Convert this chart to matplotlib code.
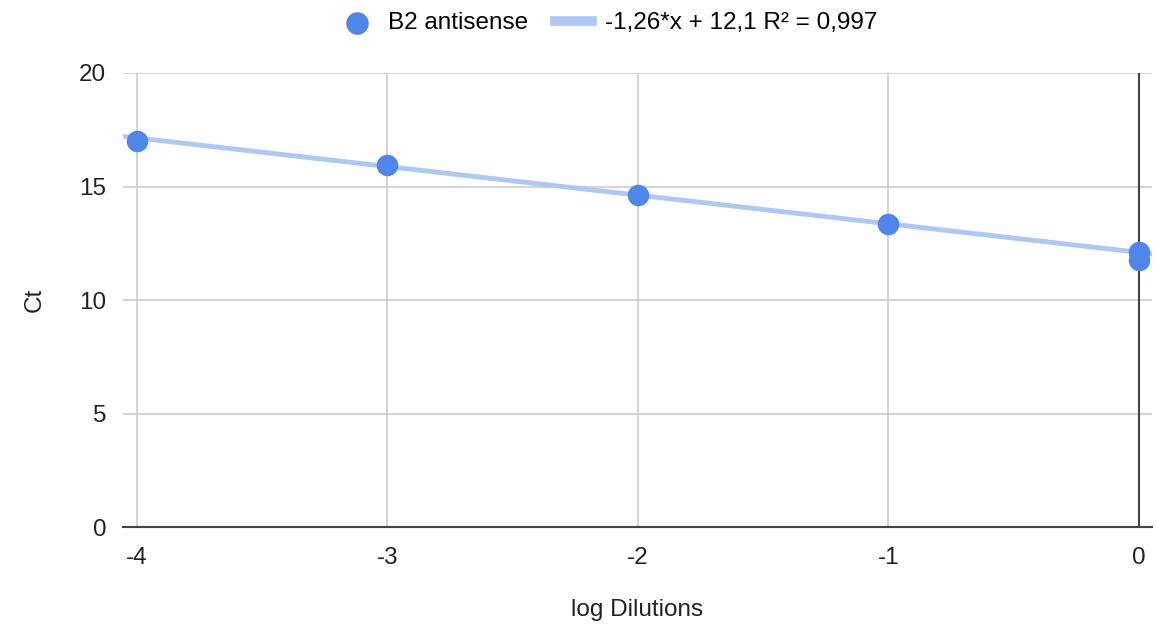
import numpy as np
import matplotlib.pyplot as plt

plt.rcParams['font.family'] = ['Liberation Sans', 'DejaVu Sans']
plt.rcParams['axes.unicode_minus'] = False

# data
log_dil = [-4, -3, -2, -1, 0, 0]
ct = [17.02, 15.95, 14.63, 13.33, 12.13, 11.76]
slope = -1.26
intercept = 12.1
fit_label = "-1,26*x + 12,1 R² = 0,997"
series_label = "B2 antisense"

xlim = (-4.056, 0.052)
xticks = [-4, -3, -2, -1, 0]
yticks = [0, 5, 10, 15, 20]

fig = plt.figure(figsize=(11.56, 6.32), dpi=100)
ax = fig.add_axes([0.1064, 0.166, 0.890, 0.7185])

xx = np.array(xlim)
ax.plot(xx, slope * xx + intercept, color='#aec8f6', lw=3.5, label=fit_label, zorder=2)
ax.scatter(log_dil, ct, s=240, color='#4f86ec', label=series_label, zorder=3, linewidths=0)

ax.set_xlim(*xlim)
ax.set_ylim(0, 20)
ax.set_xticks(xticks)
ax.set_yticks(yticks)
ax.grid(True, color='#cccccc', lw=1.2)
ax.set_axisbelow(True)
ax.axvline(0, color='#444444', lw=1.5, zorder=1)
for s in ['top', 'right', 'left']:
    ax.spines[s].set_visible(False)
ax.spines['bottom'].set_color('#444444')
ax.spines['bottom'].set_linewidth(1.5)
ax.tick_params(length=0, labelsize=17.5, colors='#222222')
ax.tick_params(axis='x', pad=14)
ax.tick_params(axis='y', pad=12)

ax.set_xlabel("log Dilutions", fontsize=17.5, labelpad=22, color='#222222')
ax.set_ylabel("Ct", fontsize=17.5, labelpad=24, color='#222222')

handles, labels = ax.get_legend_handles_labels()
leg = fig.legend(handles[::-1], labels[::-1], loc='upper center', bbox_to_anchor=(0.526, 1.015),
                 ncol=2, frameon=False, fontsize=17.5, handlelength=1.5, columnspacing=1.1,
                 handletextpad=0.55, markerscale=1.05)
leg.get_lines()[0].set_linewidth(7)

fig.savefig("out.png", dpi=100)
